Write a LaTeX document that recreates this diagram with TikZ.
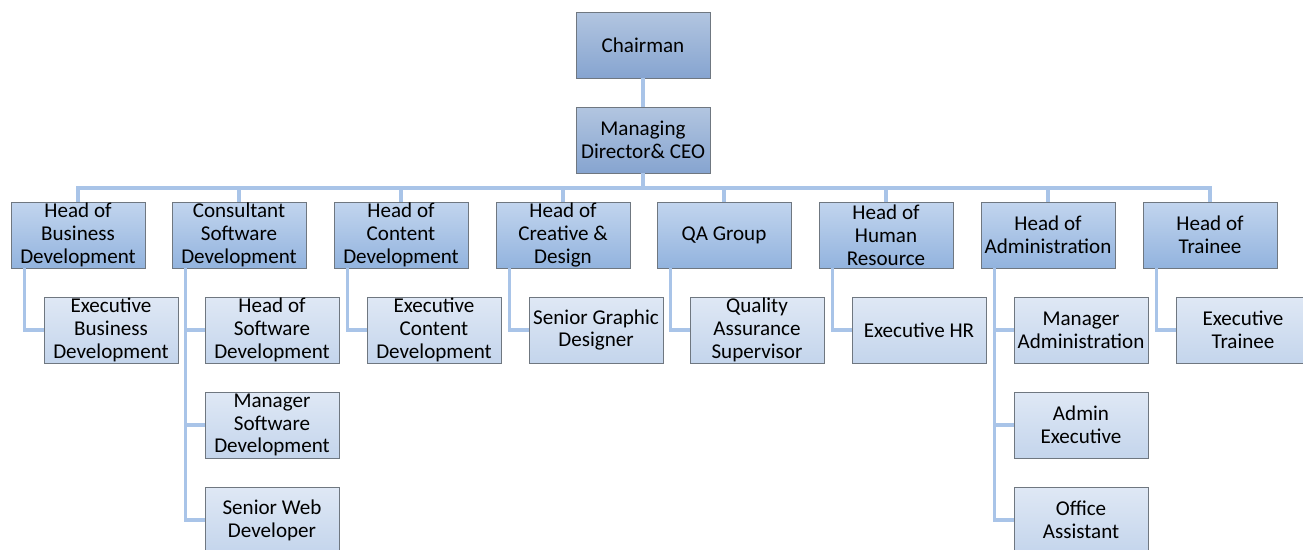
\documentclass[tikz,border=0pt]{standalone}
\usepackage{fontspec}
\setmainfont{Carlito}
\usepackage{tikz}

\definecolor{topdark}{HTML}{B2C5E0}
\definecolor{botdark}{HTML}{86A4D0}
\definecolor{topmid}{HTML}{C2D5EE}
\definecolor{botmid}{HTML}{92B3DE}
\definecolor{toplight}{HTML}{DFE8F5}
\definecolor{botlight}{HTML}{C4D5EC}
\definecolor{rim}{HTML}{6F7780}
\definecolor{wire}{HTML}{A9C4E8}

\begin{document}
\begin{tikzpicture}[x=0.02cm, y=-0.02cm,
		box/.style={draw=rim, minimum width=2.68cm, minimum height=1.32cm, inner sep=0pt,
			align=center, font=\fontsize{12}{13}\selectfont},
		topbox/.style={box, top color=topdark, bottom color=botdark},
		headbox/.style={box, top color=topmid, bottom color=botmid},
		subbox/.style={box, top color=toplight, bottom color=botlight},
		link/.style={draw=wire, line width=1.8pt}]
		\useasboundingbox (0, 0) rectangle (1303, 549);
		%%
		\node[topbox] (chair) at (643, 45) {Chairman};
		\node[topbox] (md) at (643, 140) {Managing\\Director\& CEO};
		\coordinate (bus) at (643, 188);
		%%
		\node[headbox] (bizdev) at (78, 235) {Head of\\Business\\Development};
		\node[headbox] (consult) at (239, 235) {Consultant\\Software\\Development};
		\node[headbox] (content) at (401, 235) {Head of\\Content\\Development};
		\node[headbox] (creative) at (563, 235) {Head of\\Creative \&\\Design};
		\node[headbox] (qa) at (724, 235) {QA Group};
		\node[headbox] (hr) at (886, 235) {Head of\\Human\\Resource};
		\node[headbox] (admin) at (1048, 235) {Head of\\Administration};
		\node[headbox] (trainee) at (1210, 235) {Head of\\Trainee};
		%%
		\node[subbox] (exbiz) at (111, 330) {Executive\\Business\\Development};
		\node[subbox] (headsw) at (272, 330) {Head of\\Software\\Development};
		\node[subbox] (mgrsw) at (272, 425) {Manager\\Software\\Development};
		\node[subbox] (webdev) at (272, 520) {Senior Web\\Developer};
		\node[subbox] (excontent) at (434, 330) {Executive\\Content\\Development};
		\node[subbox] (graphic) at (596, 330) {Senior Graphic\\Designer};
		\node[subbox] (qasup) at (757, 330) {Quality\\Assurance\\Supervisor};
		\node[subbox] (exhr) at (919, 330) {Executive HR};
		\node[subbox] (mgradmin) at (1081, 330) {Manager\\Administration};
		\node[subbox] (adminex) at (1081, 425) {Admin\\Executive};
		\node[subbox] (office) at (1081, 520) {Office\\Assistant};
		\node[subbox] (extrainee) at (1243, 330) {Executive\\Trainee};
		%%
		\draw[link] (chair) -- (md);
		\draw[link] (md) -- (bus);
		\draw[link] (bizdev.north) |- (bus) -| (trainee.north);
		\draw[link] (consult.north) -- (consult.north |- bus);
		\draw[link] (content.north) -- (content.north |- bus);
		\draw[link] (creative.north) -- (creative.north |- bus);
		\draw[link] (qa.north) -- (qa.north |- bus);
		\draw[link] (hr.north) -- (hr.north |- bus);
		\draw[link] (admin.north) -- (admin.north |- bus);
		%%
		\draw[link] ([xshift=0.28cm]bizdev.south west) |- (exbiz.west);
		\draw[link] ([xshift=0.28cm]consult.south west) |- (webdev.west);
		\draw[link] ([xshift=0.28cm]consult.south west |- headsw.west) -- (headsw.west);
		\draw[link] ([xshift=0.28cm]consult.south west |- mgrsw.west) -- (mgrsw.west);
		\draw[link] ([xshift=0.28cm]content.south west) |- (excontent.west);
		\draw[link] ([xshift=0.28cm]creative.south west) |- (graphic.west);
		\draw[link] ([xshift=0.28cm]qa.south west) |- (qasup.west);
		\draw[link] ([xshift=0.28cm]hr.south west) |- (exhr.west);
		\draw[link] ([xshift=0.28cm]admin.south west) |- (office.west);
		\draw[link] ([xshift=0.28cm]admin.south west |- mgradmin.west) -- (mgradmin.west);
		\draw[link] ([xshift=0.28cm]admin.south west |- adminex.west) -- (adminex.west);
		\draw[link] ([xshift=0.28cm]trainee.south west) |- (extrainee.west);
	\end{tikzpicture}
\end{document}
